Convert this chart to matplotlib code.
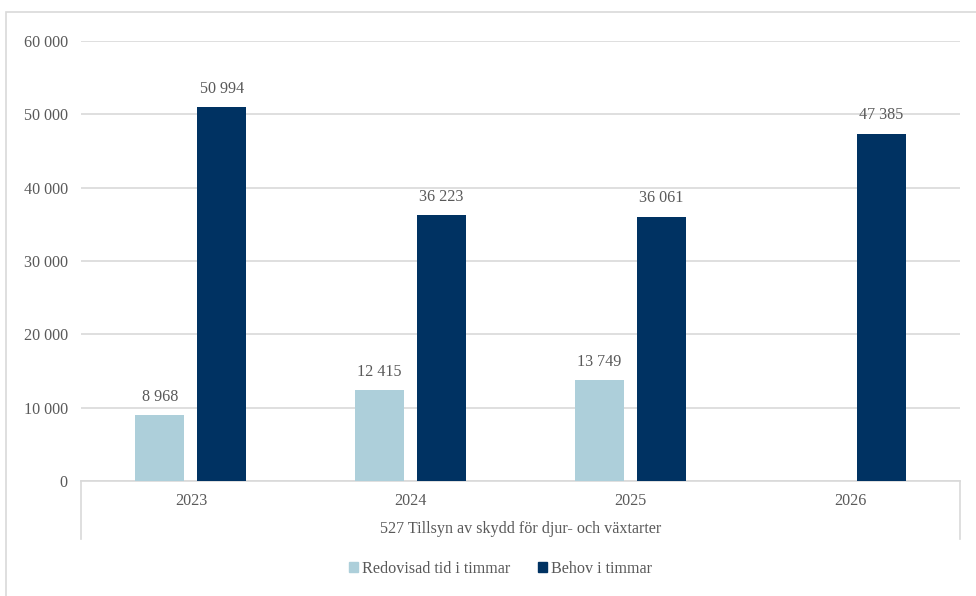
import matplotlib.pyplot as plt
import matplotlib.patches as patches
from matplotlib.lines import Line2D
from matplotlib.ticker import FuncFormatter
import numpy as np

plt.rcParams['font.family'] = ['Liberation Serif', 'DejaVu Serif']

years = ['2023', '2024', '2025', '2026']
redovisad = [8968, 12415, 13749, None]
behov = [50994, 36223, 36061, 47385]
group_label = '527 Tillsyn av skydd för djur- och växtarter'
series_names = ['Redovisad tid i timmar', 'Behov i timmar']

light = '#ADCFDA'
dark = '#003262'
grid_col = '#D9D9D9'
text_col = '#595959'
fs = 11.6

fig = plt.figure(figsize=(9.76, 5.96), dpi=100)
ax = fig.add_axes([81/976, 1-481/596, (960-81)/976, 440/596])

x = np.arange(len(years))
w = 0.223
off = 0.141

def fmt(v):
    return f'{v:,.0f}'.replace(',', ' ')

for i in range(len(years)):
    if redovisad[i] is not None:
        ax.bar(x[i]-off, redovisad[i], w, color=light, zorder=3)
        ax.annotate(fmt(redovisad[i]), (x[i]-off, redovisad[i]), xytext=(0, 7.5),
                    textcoords='offset points', ha='center', va='bottom',
                    fontsize=fs, color=text_col)
    ax.bar(x[i]+off, behov[i], w, color=dark, zorder=3)
    ax.annotate(fmt(behov[i]), (x[i]+off, behov[i]), xytext=(0, 7.5),
                textcoords='offset points', ha='center', va='bottom',
                fontsize=fs, color=text_col)

ax.set_xlim(-0.5, len(years)-0.5)
ax.set_ylim(0, 60000)
ax.set_yticks(range(0, 60001, 10000))
ax.yaxis.set_major_formatter(FuncFormatter(lambda v, p: fmt(v)))
ax.grid(axis='y', color=grid_col, linewidth=1.2, zorder=0)
ax.set_xticks(x)
ax.set_xticklabels(years)
ax.tick_params(axis='both', length=0, labelsize=fs, labelcolor=text_col)
ax.tick_params(axis='y', pad=9.5)
ax.tick_params(axis='x', pad=8.5)
for s in ['top', 'right', 'left']:
    ax.spines[s].set_visible(False)
ax.spines['bottom'].set_color(grid_col)
ax.spines['bottom'].set_linewidth(1.2)

# outer edges of the category axis box
drop = -(539-481)/440
for xe in (0, 1):
    ax.add_line(Line2D([xe, xe], [0, drop], transform=ax.transAxes,
                       color=grid_col, linewidth=1.2, clip_on=False))
ax.text(0.5, -(529-481)/440, group_label, transform=ax.transAxes,
        ha='center', va='center', fontsize=fs, color=text_col)

handles = [patches.Patch(color=light), patches.Patch(color=dark)]
fig.legend(handles, series_names, loc='center', bbox_to_anchor=(0.513, 1-569/596),
           ncol=2, frameon=False, fontsize=fs, handlelength=0.55, handleheight=0.55,
           handletextpad=0.25, columnspacing=1.7, labelcolor=text_col)

# chart border
fig.patches.append(patches.Rectangle((6/976, -0.05), 1.0, (596-12)/596+0.05,
                                     transform=fig.transFigure, fill=False,
                                     edgecolor=grid_col, linewidth=1.2))

fig.savefig('out.png', dpi=100)
